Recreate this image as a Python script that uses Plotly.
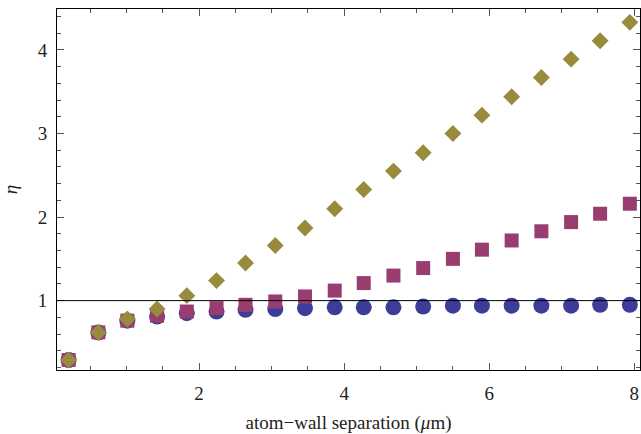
import plotly.graph_objects as go

separation = [0.20, 0.61, 1.01, 1.42, 1.83, 2.24, 2.64, 3.05, 3.46, 3.87,
              4.27, 4.68, 5.09, 5.50, 5.90, 6.31, 6.72, 7.13, 7.53, 7.94]
eta_circles = [0.29, 0.62, 0.76, 0.81, 0.85, 0.87, 0.89, 0.90, 0.91, 0.92,
               0.92, 0.92, 0.93, 0.94, 0.94, 0.94, 0.94, 0.94, 0.95, 0.95]
eta_squares = [0.29, 0.62, 0.76, 0.82, 0.87, 0.91, 0.95, 0.99, 1.05, 1.12,
               1.21, 1.30, 1.39, 1.50, 1.61, 1.72, 1.83, 1.94, 2.04, 2.16]
eta_diamonds = [0.29, 0.62, 0.78, 0.90, 1.06, 1.24, 1.45, 1.66, 1.87, 2.10,
                2.33, 2.55, 2.77, 3.00, 3.22, 3.44, 3.67, 3.89, 4.11, 4.33]
x_ticks = [2, 4, 6, 8]
y_ticks = [1, 2, 3, 4]
reference_level = 1

fig = go.Figure()
fig.add_trace(go.Scatter(x=separation, y=eta_circles, mode="markers",
                         marker=dict(symbol="circle", size=16, color="#3d3d99",
                                     line=dict(width=0))))
fig.add_trace(go.Scatter(x=separation, y=eta_squares, mode="markers",
                         marker=dict(symbol="square", size=14, color="#993d71",
                                     line=dict(width=0))))
fig.add_trace(go.Scatter(x=separation, y=eta_diamonds, mode="markers",
                         marker=dict(symbol="diamond", size=13, color="#998b3d",
                                     line=dict(width=0))))
fig.add_hline(y=reference_level, line=dict(color="black", width=1), layer="above")

SERIF = "Liberation Serif"
FONT = dict(family=SERIF, size=19, color="#222")
axis_common = dict(showline=True, linecolor="black", linewidth=1, mirror="ticks",
                   ticks="inside", ticklen=7, tickcolor="#555", tickwidth=1,
                   showgrid=False, zeroline=False, automargin=False,
                   tickfont=FONT, ticklabeloverflow="allow")

fig.update_xaxes(range=[0.04, 8.08], tickmode="array", tickvals=x_ticks,
                 ticktext=[str(v) for v in x_ticks], ticklabelstandoff=6,
                 minor=dict(dtick=0.5, tick0=0, ticks="inside", ticklen=4, tickcolor="#555"),
                 title=dict(text="atom\u2212wall separation (<i>\u03bc</i>m)",
                            font=FONT, standoff=15),
                 **axis_common)
fig.update_yaxes(range=[0.17, 4.49], tickmode="array", tickvals=y_ticks,
                 ticktext=[str(v) for v in y_ticks], ticklabelstandoff=5,
                 minor=dict(dtick=0.2, tick0=0, ticks="inside", ticklen=4, tickcolor="#555"),
                 title=dict(text="<i>\u03b7</i>", font=FONT, standoff=18),
                 **axis_common)

fig.update_layout(width=641, height=434, margin=dict(l=57, r=1, t=9, b=64),
                  font=FONT,
                  plot_bgcolor="white", paper_bgcolor="white", showlegend=False)

fig.write_html("out.html", config={"displayModeBar": False},
               post_script="document.body.style.margin='0';document.documentElement.style.overflow='hidden';")
